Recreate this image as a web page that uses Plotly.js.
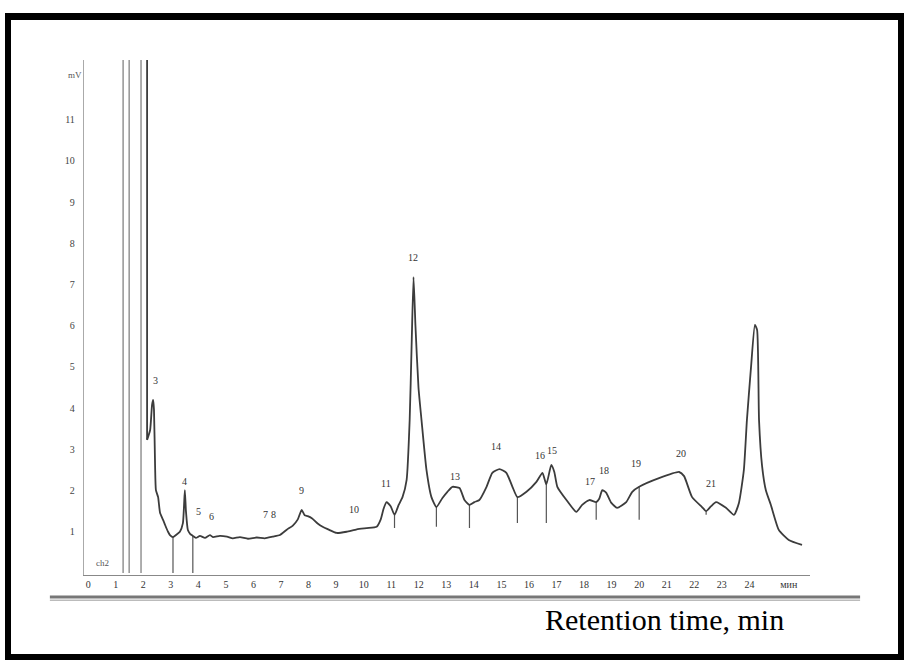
<!DOCTYPE html>
<html>
<head>
<meta charset="utf-8">
<script src="https://cdn.plot.ly/plotly-3.0.1.min.js"></script>
<style>
  html, body { margin: 0; padding: 0; background: #fff; }
  #wrap { position: relative; width: 906px; height: 662px; overflow: hidden; }
  #chart { width: 906px; height: 662px; }
  #frame { position: absolute; left: 5px; top: 13px; width: 899px; height: 647px;
           box-sizing: border-box; border: 6px solid #000; border-top-width: 7px; pointer-events: none; }
</style>
</head>
<body>
<div id="wrap">
  <div id="chart"></div>
  <div id="frame"></div>
</div>
<script>
// Retention time (min) and detector signal (mV)
const time = [2.14, 2.25, 2.32, 2.36, 2.39, 2.43, 2.46, 2.54, 2.61, 2.72, 2.79, 2.90, 2.97, 3.08,
  3.19, 3.33, 3.44, 3.51, 3.55, 3.62, 3.70, 3.80, 3.91, 4.06, 4.24, 4.42, 4.53, 4.78, 5.04, 5.25, 5.51,
  5.80, 6.12, 6.41, 6.70, 6.96, 7.21, 7.43, 7.61, 7.75, 7.86, 7.97, 8.12, 8.33, 8.51, 8.77, 9.02, 9.38,
  9.75, 10.11, 10.47, 10.62, 10.72, 10.83, 10.98, 11.12, 11.27, 11.41, 11.56, 11.67, 11.74, 11.81, 11.88,
  11.99, 12.10, 12.28, 12.46, 12.64, 12.86, 13.04, 13.22, 13.48, 13.66, 13.84, 14.02, 14.20, 14.46, 14.67,
  14.93, 15.18, 15.40, 15.58, 15.91, 16.27, 16.49, 16.63, 16.81, 16.92, 17.03, 17.36, 17.72, 17.93, 18.19,
  18.44, 18.55, 18.66, 18.80, 18.99, 19.20, 19.53, 19.75, 20.00, 20.72, 21.45, 21.63, 21.92, 22.28, 22.43,
  22.61, 22.79, 23.15, 23.44, 23.62, 23.80, 23.91, 24.06, 24.20, 24.28, 24.35, 24.46, 24.60, 24.78, 25.07,
  25.43, 25.91];
const signal = [3.23, 3.47, 4.08, 4.20, 3.96, 2.60, 2.01, 1.84, 1.46, 1.29, 1.17, 1.00, 0.92, 0.87,
  0.92, 1.00, 1.21, 2.01, 1.50, 1.04, 0.95, 0.90, 0.85, 0.90, 0.85, 0.92, 0.87, 0.90, 0.88, 0.84, 0.87,
  0.83, 0.86, 0.84, 0.88, 0.92, 1.05, 1.15, 1.30, 1.53, 1.40, 1.38, 1.33, 1.20, 1.12, 1.04, 0.97, 1.00,
  1.06, 1.09, 1.12, 1.30, 1.55, 1.72, 1.62, 1.41, 1.65, 1.84, 2.26, 3.71, 5.50, 7.18, 6.00,
  4.50, 3.71, 2.50, 1.84, 1.60, 1.82, 1.97, 2.09, 2.06, 1.77, 1.65, 1.72, 1.77, 2.09, 2.43,
  2.52, 2.43, 2.09, 1.84, 1.97, 2.21, 2.43, 2.15, 2.62, 2.45, 2.09, 1.77, 1.48, 1.65, 1.77,
  1.72, 1.80, 2.01, 1.95, 1.70, 1.58, 1.72, 1.97, 2.09, 2.30, 2.45, 2.35, 1.84, 1.60, 1.50,
  1.62, 1.72, 1.58, 1.41, 1.70, 2.50, 3.71, 5.00, 6.02, 5.90, 3.71, 2.60, 2.00, 1.65, 1.04,
  0.80, 0.68];

// Off-scale solvent pen strokes (min) and full-scale signal
const solventTime = [1.27, 1.49, 1.92];
const frontTime = 2.14;
const fullScale = 12.45;

// Integration event marks
const markTime = [3.08, 3.80, 11.12, 12.64, 13.84, 15.58, 16.63, 18.44, 20.00, 22.43];
const markTop = [0.87, 0.90, 1.41, 1.60, 1.65, 1.84, 2.15, 1.72, 2.09, 1.50];
const markBottom = [0.00, 0.00, 1.09, 1.12, 1.09, 1.21, 1.21, 1.29, 1.29, 1.41];

// Peak numbers
const peakLabels = ["3", "4", "5", "6", "7", "8", "9", "10", "11", "12", "13", "14", "16", "15", "17", "18", "19", "20", "21"];
const peakTime = [2.43, 3.51, 3.99, 4.49, 6.45, 6.74, 7.75, 9.64, 10.80, 11.78, 13.33, 14.82, 16.41, 16.85, 18.22, 18.73, 19.89, 21.52, 22.61];
const peakSignal = [4.66, 2.23, 1.50, 1.38, 1.43, 1.43, 2.01, 1.53, 2.18, 7.65, 2.33, 3.06, 2.86, 2.96, 2.21, 2.48, 2.65, 2.91, 2.18];

// Axis ticks
const xTickVals = [0,1,2,3,4,5,6,7,8,9,10,11,12,13,14,15,16,17,18,19,20,21,22,23,24,25.43];
const xTickText = ["0","1","2","3","4","5","6","7","8","9","10","11","12","13","14","15","16","17","18","19","20","21","22","23","24","мин"];
const yTickVals = [1,2,3,4,5,6,7,8,9,10,11];

// Build traces
const solX = [], solY = [];
solventTime.forEach(t => { solX.push(t, t, null); solY.push(0, fullScale, null); });
const mkX = [], mkY = [];
markTime.forEach((t, i) => { mkX.push(t, t, null); mkY.push(markTop[i], markBottom[i], null); });

const traces = [
  { x: solX, y: solY, mode: 'lines', line: { color: '#9a9a9a', width: 1.6 }, hoverinfo: 'skip', showlegend: false },
  { x: [frontTime, frontTime], y: [fullScale, signal[0]], mode: 'lines', line: { color: '#3c3c3c', width: 1.8 }, hoverinfo: 'skip', showlegend: false },
  { x: mkX, y: mkY, mode: 'lines', line: { color: '#555', width: 1.2 }, hoverinfo: 'skip', showlegend: false },
  { x: time, y: signal, mode: 'lines', line: { color: '#3c3c3c', width: 1.8, shape: 'spline', smoothing: 0.5 }, showlegend: false }
];

const font = "Liberation Serif, Times New Roman, serif";
const annotations = peakLabels.map((s, i) => ({
  x: peakTime[i], y: peakSignal[i], xref: 'x', yref: 'y', text: s, showarrow: false,
  font: { family: font, size: 10, color: '#333' }
}));
annotations.push({ x: -0.025, y: 0.984, xref: 'paper', yref: 'paper', text: 'mV', showarrow: false,
  font: { family: font, size: 9, color: '#555' } });
annotations.push({ x: 0.51, y: 0.24, xref: 'x', yref: 'y', text: 'ch2', showarrow: false,
  font: { family: font, size: 9, color: '#555' } });
annotations.push({ x: 0.80, y: -0.087, xref: 'paper', yref: 'paper', text: 'Retention time, min', showarrow: false,
  xanchor: 'center', yanchor: 'middle', font: { family: font, size: 30, color: '#000' } });

const layout = {
  width: 906, height: 662,
  margin: { l: 84, r: 96, t: 60, b: 87 },
  paper_bgcolor: '#fff', plot_bgcolor: '#fff',
  xaxis: {
    range: [-0.15, 26.2], showgrid: false, zeroline: false, showline: true, linecolor: '#888', linewidth: 1.2,
    ticks: '', tickvals: xTickVals, ticktext: xTickText,
    tickfont: { family: font, size: 10, color: '#333' }
  },
  yaxis: {
    range: [-0.05, 12.45], showgrid: false, zeroline: false, showline: true, linecolor: '#aaa', linewidth: 1.2,
    ticks: '', tickvals: yTickVals, ticklabelstandoff: 6,
    tickfont: { family: font, size: 10, color: '#444' }
  },
  annotations: annotations,
  shapes: [
    { type: 'line', xref: 'paper', yref: 'paper', x0: -0.047, x1: 1.069, y0: -0.0427, y1: -0.0427,
      line: { color: '#777', width: 3 } },
    { type: 'line', xref: 'paper', yref: 'paper', x0: -0.047, x1: 1.069, y0: -0.049, y1: -0.049,
      line: { color: '#bbb', width: 1.5 } }
  ]
};

Plotly.newPlot('chart', traces, layout, { displayModeBar: false, staticPlot: true });
</script>
</body>
</html>
